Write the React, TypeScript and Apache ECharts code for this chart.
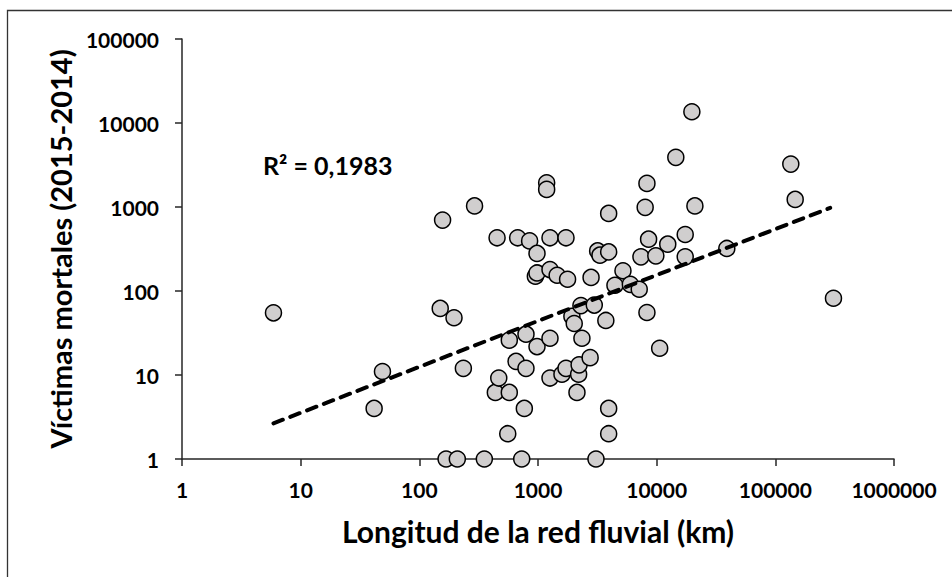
import React, { useEffect, useRef } from "react";
import * as echarts from "echarts";

const longitudKm = [
  5.9, 41.6, 48.9, 150, 157, 168, 196, 209, 235, 292, 353, 437, 452, 467, 556, 573, 573, 653, 674, 729,
  767, 792, 792, 850, 950, 981, 981, 981, 1183, 1183, 1262, 1262, 1262, 1262, 1450, 1592, 1722, 1722, 1775, 1930,
  2020, 2130, 2200, 2220, 2300, 2345, 2750, 2800, 2980, 3080, 3180, 3330, 3730, 3940, 3940, 3940, 3940, 4450, 5200, 6000,
  7130, 7370, 8000, 8280, 8280, 8550, 9840, 10600, 12400, 14500, 17400, 17400, 19800, 21000, 39000, 135000, 147000, 309000,
];
const victimas = [
  55, 4, 11, 62, 698, 1, 48, 1, 12, 1030, 1, 6.2, 430, 9.2, 2, 6.2, 26, 14.5, 430, 1,
  4, 30.6, 12, 395, 150, 164, 280, 21.8, 1940, 1620, 430, 180, 27.4, 9.2, 154, 10.2, 12, 430, 138, 50,
  41, 6.2, 10.2, 13.2, 67, 27.4, 16.1, 145, 68, 1, 300, 267, 44.6, 838, 292, 4, 2, 117, 174, 120,
  105, 255, 990, 1910, 55.5, 414, 262, 20.8, 361, 3900, 471, 255, 13600, 1030, 321, 3240, 1230, 82,
];
const trendX = [5.9, 290000];
const trendY = [2.66, 977];
const xTicks = [1, 10, 100, 1000, 10000, 100000, 1000000];
const yTicks = [1, 10, 100, 1000, 10000, 100000];
const r2Label = "R\u00B2 = 0,1983";

const FONT = "Lato, 'Open Sans', sans-serif";

export default function App() {
  const ref = useRef<HTMLDivElement>(null);
  useEffect(() => {
    document.body.style.margin = "0";
    if (!ref.current) return;
    const chart = echarts.init(ref.current, undefined, { renderer: "svg" });
    const points = longitudKm.map((x, i) => [x, victimas[i]]);
    const trend = trendX.map((x, i) => [x, trendY[i]]);
    const fmt = (v: number) => String(Math.round(v));
    chart.setOption({
      animation: false,
      backgroundColor: "#ffffff",
      textStyle: { fontFamily: FONT },
      grid: { left: 182, right: 58, top: 39, bottom: 118 },
      xAxis: {
        type: "log",
        logBase: 10,
        min: xTicks[0],
        max: xTicks[xTicks.length - 1],
        splitNumber: 6,
        name: "Longitud de la red fluvial (km)",
        nameLocation: "middle",
        nameGap: 57,
        nameTextStyle: { fontFamily: FONT, fontWeight: "bold", fontSize: 30, color: "#000" },
        axisLine: { lineStyle: { color: "#262626", width: 1.5 } },
        axisTick: { show: true, inside: false, length: 7, lineStyle: { color: "#262626", width: 1.5 } },
        axisLabel: { formatter: fmt, fontFamily: FONT, fontWeight: "bold", fontSize: 21, color: "#000", margin: 20 },
        splitLine: { show: false },
        minorTick: { show: false },
      },
      yAxis: {
        type: "log",
        logBase: 10,
        min: yTicks[0],
        max: yTicks[yTicks.length - 1],
        splitNumber: 5,
        name: "V\u00EDctimas mortales (2015-2014)",
        nameLocation: "middle",
        nameRotate: 90,
        nameGap: 106,
        nameTextStyle: { fontFamily: FONT, fontWeight: "bold", fontSize: 29, color: "#000" },
        axisLine: { show: true, lineStyle: { color: "#262626", width: 1.5 } },
        axisTick: { show: true, inside: false, length: 7, lineStyle: { color: "#262626", width: 1.5 } },
        axisLabel: { formatter: fmt, fontFamily: FONT, fontWeight: "bold", fontSize: 21, color: "#000", margin: 23 },
        splitLine: { show: false },
      },
      graphic: [
        {
          type: "rect",
          shape: { x: 7.5, y: 10.5, width: 980, height: 620 },
          style: { fill: "none", stroke: "#333", lineWidth: 1.3 },
          silent: true,
          z: -10,
        },
        {
          type: "text",
          x: 263,
          y: 165,
          style: {
            text: r2Label,
            fontFamily: FONT,
            fontWeight: "bold",
            fontSize: 25,
            fill: "#000",
            verticalAlign: "middle",
            align: "left",
          },
        },
      ],
      series: [
        {
          type: "scatter",
          data: points,
          symbol: "circle",
          symbolSize: 16,
          itemStyle: { color: "#D0CECE", borderColor: "#000", borderWidth: 1.5, opacity: 1 },
          z: 2,
        },
        {
          type: "line",
          data: trend,
          symbol: "none",
          lineStyle: { color: "#000", width: 4, type: [10, 8], cap: "round" },
          z: 3,
        },
      ],
    });
    return () => chart.dispose();
  }, []);
  return <div ref={ref} style={{ width: 952, height: 577 }} />;
}
